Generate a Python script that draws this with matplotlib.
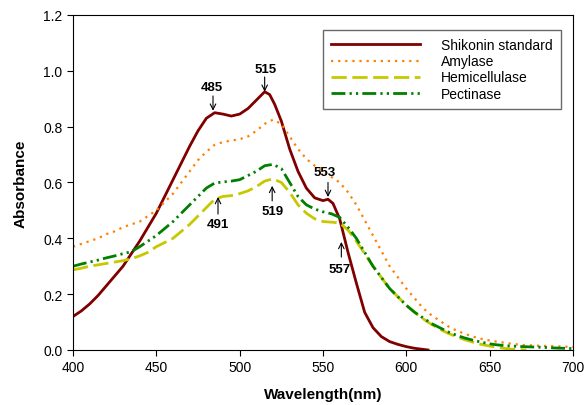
import matplotlib
matplotlib.use("Agg")
import matplotlib.pyplot as plt

plt.rcParams['font.family'] = ['Liberation Sans', 'DejaVu Sans']

# Shikonin standard
x_shik = [400, 405, 410, 415, 420, 425, 430, 435, 440, 445, 450, 455, 460, 465, 470, 475,
          480, 485, 490, 495, 500, 505, 510, 515, 518, 521, 525, 530, 535, 540, 545, 550, 553,
          556, 560, 565, 570, 575, 580, 585, 590, 595, 600, 605, 613]
y_shik = [0.12, 0.14, 0.165, 0.195, 0.23, 0.265, 0.30, 0.345, 0.39, 0.44, 0.49, 0.55, 0.61, 0.67, 0.73, 0.785,
          0.83, 0.85, 0.845, 0.838, 0.845, 0.865, 0.895, 0.925, 0.915, 0.88, 0.82, 0.72, 0.64, 0.58, 0.545, 0.535, 0.54,
          0.525, 0.47, 0.35, 0.24, 0.135, 0.08, 0.048, 0.03, 0.02, 0.012, 0.006, 0.0]

# Amylase
x_amy = [400, 405, 410, 415, 420, 425, 430, 435, 440, 445, 450, 455, 460, 465, 470, 475,
         480, 485, 490, 495, 500, 505, 510, 515, 520, 525, 530, 535, 540, 545, 550, 555,
         560, 565, 570, 575, 580, 585, 590, 595, 600, 605, 610, 615, 620, 625, 630, 635,
         640, 645, 650, 655, 660, 665, 670, 680, 690, 700]
y_amy = [0.37, 0.38, 0.39, 0.40, 0.415, 0.425, 0.44, 0.45, 0.46, 0.48, 0.50, 0.53, 0.56, 0.60, 0.64, 0.68,
         0.71, 0.735, 0.745, 0.75, 0.755, 0.765, 0.785, 0.81, 0.825, 0.81, 0.765, 0.72, 0.685, 0.66, 0.64, 0.62,
         0.60, 0.565, 0.52, 0.465, 0.41, 0.355, 0.30, 0.26, 0.22, 0.185, 0.15, 0.125, 0.105, 0.085, 0.07, 0.058,
         0.048, 0.04, 0.034, 0.029, 0.025, 0.021, 0.018, 0.015, 0.013, 0.011]

# Hemicellulase
x_hemi = [400, 405, 410, 415, 420, 425, 430, 435, 440, 445, 450, 455, 460, 465, 470, 475,
          480, 485, 490, 495, 500, 505, 510, 515, 520, 525, 530, 535, 540, 545, 550, 555,
          560, 565, 570, 575, 580, 585, 590, 595, 600, 605, 610, 615, 620, 625, 630, 635,
          640, 645, 650, 655, 660, 665, 672]
y_hemi = [0.287, 0.293, 0.30, 0.305, 0.31, 0.315, 0.32, 0.327, 0.337, 0.35, 0.37, 0.385, 0.40, 0.425, 0.45, 0.48,
          0.51, 0.54, 0.55, 0.553, 0.56, 0.57, 0.585, 0.605, 0.613, 0.60, 0.565, 0.52, 0.49, 0.47, 0.46, 0.458,
          0.455, 0.43, 0.39, 0.345, 0.30, 0.26, 0.22, 0.19, 0.16, 0.135, 0.112, 0.092, 0.075, 0.06, 0.048, 0.037,
          0.028, 0.02, 0.014, 0.009, 0.005, 0.002, 0.0]

# Pectinase
x_pect = [400, 405, 410, 415, 420, 425, 430, 435, 440, 445, 450, 455, 460, 465, 470, 475,
          480, 485, 490, 495, 500, 505, 510, 515, 520, 525, 530, 535, 540, 545, 550, 555,
          560, 565, 570, 575, 580, 585, 590, 595, 600, 605, 610, 615, 620, 625, 630, 635,
          640, 645, 650, 655, 660, 670, 680, 690, 700]
y_pect = [0.30, 0.308, 0.315, 0.322, 0.33, 0.337, 0.345, 0.352, 0.37, 0.39, 0.41, 0.435, 0.46, 0.49, 0.52, 0.55,
          0.58, 0.598, 0.602, 0.605, 0.61, 0.625, 0.64, 0.66, 0.665, 0.65, 0.60, 0.55, 0.52, 0.505, 0.495, 0.488,
          0.475, 0.44, 0.40, 0.35, 0.30, 0.26, 0.22, 0.19, 0.16, 0.135, 0.115, 0.095, 0.08, 0.065, 0.053, 0.043,
          0.035, 0.028, 0.022, 0.018, 0.015, 0.012, 0.01, 0.007, 0.005]

# peak labels: text, text position, arrow tail, arrow head
peak_labels = ['485', '515', '553', '491', '519', '557']
peak_text_xy = [(483.5, 0.943), (515.8, 1.007), (551, 0.638), (487, 0.45), (520, 0.498), (560, 0.29)]
peak_arrow_from = [(484, 0.91), (515, 0.978), (553, 0.60), (487, 0.487), (519.5, 0.534), (561, 0.333)]
peak_arrow_to = [(484, 0.857), (515, 0.925), (553, 0.548), (487, 0.548), (519.5, 0.588), (561, 0.387)]

fig = plt.figure(figsize=(5.86, 4.06), dpi=100)
ax = fig.add_axes([0.1246, 0.1355, 0.8532, 0.8251])

ax.plot(x_shik, y_shik, color='#800000', lw=2.0, label='Shikonin standard')
ax.plot(x_amy, y_amy, color='#ff8000', lw=1.6, ls=(0, (1, 2.2)), label='Amylase')
ax.plot(x_hemi, y_hemi, color='#c8c800', lw=2.0, ls=(0, (5.5, 2)), label='Hemicellulase')
ax.plot(x_pect, y_pect, color='#008000', lw=2.0, ls=(0, (5, 1.5, 0.8, 1.5, 0.8, 1.5)), label='Pectinase')

for lab, txy, a0, a1 in zip(peak_labels, peak_text_xy, peak_arrow_from, peak_arrow_to):
    ax.text(txy[0], txy[1], lab, ha='center', va='center', fontsize=9.5, fontweight='bold')
    ax.annotate('', xy=a1, xytext=a0,
                arrowprops=dict(arrowstyle='->', lw=0.8, color='black', shrinkA=0, shrinkB=0))

ax.set_xlim(400, 700)
ax.set_ylim(0, 1.2)
ax.set_xticks([400, 450, 500, 550, 600, 650, 700])
ax.set_yticks([0.0, 0.2, 0.4, 0.6, 0.8, 1.0, 1.2])
ax.set_yticklabels(['0.0', '0.2', '0.4', '0.6', '0.8', '1.0', '1.2'])
ax.tick_params(direction='out', length=4, labelsize=10, color='black')
ax.set_xlabel('Wavelength(nm)', fontsize=11, fontweight='bold', labelpad=9)
ax.set_ylabel('Absorbance', fontsize=11, fontweight='bold', labelpad=11)

leg = ax.legend(loc='upper right', bbox_to_anchor=(0.99, 0.976), fontsize=10,
                frameon=True, fancybox=False, handlelength=6.4, handletextpad=1.5,
                labelspacing=0.15, borderpad=0.6)
leg.get_frame().set_edgecolor('#444444')
leg.get_frame().set_linewidth(1.0)

fig.savefig('out.png', dpi=100)
